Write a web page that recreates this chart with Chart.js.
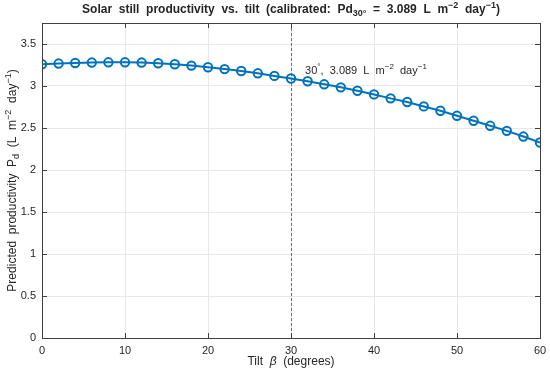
<!DOCTYPE html>
<html>
<head>
<meta charset="utf-8">
<script src="https://cdn.jsdelivr.net/npm/chart.js@4"></script>
<style>
  html, body { margin: 0; padding: 0; background: #fff; }
  #wrap { width: 550px; height: 374px; }
</style>
</head>
<body>
<div id="wrap"><canvas id="tiltChart" width="550" height="374"></canvas></div>
<script>
// tilt angles (degrees) and predicted productivity
const tilt = [0, 2, 4, 6, 8, 10, 12, 14, 16, 18, 20, 22, 24, 26, 28, 30,
              32, 34, 36, 38, 40, 42, 44, 46, 48, 50, 52, 54, 56, 58, 60];
const productivity = [3.259, 3.267, 3.274, 3.279, 3.282, 3.282, 3.279, 3.271, 3.259, 3.243,
                      3.223, 3.201, 3.179, 3.151, 3.120, 3.089, 3.056, 3.020, 2.984, 2.944,
                      2.900, 2.853, 2.809, 2.757, 2.705, 2.645, 2.586, 2.526, 2.466, 2.398, 2.327];
const xTicks = [0, 10, 20, 30, 40, 50, 60];
const yTicks = [0, 0.5, 1, 1.5, 2, 2.5, 3, 3.5];
const markTilt = 30;
const markValue = 3.089;

const FONT = '"Liberation Sans", Arial, Helvetica, sans-serif';
const TEXT = '#262626';
const BLUE = '#0072BD';

// draws a run of text pieces; sup/sub pieces are smaller and shifted
function richText(ctx, parts, x, y, size, bold, align) {
    const w8 = bold ? 'bold ' : '';
    const fontFor = p => (p.it ? 'italic ' : '') + w8 + Math.round(p.s ? size * 0.72 : size) + 'px ' + FONT;
    let total = 0;
    parts.forEach(p => { ctx.font = fontFor(p); total += ctx.measureText(p.t).width; });
    let cx = align === 'center' ? x - total / 2 : x;
    ctx.textBaseline = 'middle';
    ctx.textAlign = 'left';
    parts.forEach(p => {
        ctx.font = fontFor(p);
        let dy = 0;
        if (p.s === 'sup') dy = -size * 0.38;
        if (p.s === 'sub') dy = size * 0.3;
        ctx.fillText(p.t, cx, y + dy);
        cx += ctx.measureText(p.t).width;
    });
}

const decorations = {
    id: 'decorations',
    beforeDatasetsDraw(chart) {
        const { ctx, chartArea: a, scales: { x } } = chart;
        ctx.save();
        // dashed reference line at 30 degrees
        const px = Math.round(x.getPixelForValue(markTilt)) + 0.5;
        ctx.strokeStyle = '#707070';
        ctx.lineWidth = 1;
        ctx.setLineDash([3, 2]);
        ctx.beginPath();
        ctx.moveTo(px, a.top);
        ctx.lineTo(px, a.bottom);
        ctx.stroke();
        ctx.restore();
    },
    afterDraw(chart) {
        const { ctx, chartArea: a, scales: { x, y } } = chart;
        ctx.save();
        // box and inward ticks
        ctx.strokeStyle = '#404040';
        ctx.lineWidth = 1;
        ctx.strokeRect(a.left + 0.5, a.top + 0.5, a.right - a.left, a.bottom - a.top);
        ctx.beginPath();
        xTicks.forEach(v => {
            const p = Math.round(x.getPixelForValue(v)) + 0.5;
            ctx.moveTo(p, a.bottom); ctx.lineTo(p, a.bottom - 5);
            ctx.moveTo(p, a.top); ctx.lineTo(p, a.top + 5);
        });
        yTicks.forEach(v => {
            const p = Math.round(y.getPixelForValue(v)) + 0.5;
            ctx.moveTo(a.left, p); ctx.lineTo(a.left + 5, p);
            ctx.moveTo(a.right, p); ctx.lineTo(a.right - 5, p);
        });
        ctx.stroke();

        ctx.fillStyle = TEXT;
        // title
        richText(ctx, [
            { t: 'Solar  still  productivity  vs.  tilt  (calibrated:  Pd' },
            { t: '30°', s: 'sub' },
            { t: '  =  3.089  L  m' },
            { t: '−2', s: 'sup' },
            { t: '  day' },
            { t: '−1', s: 'sup' },
            { t: ')' }
        ], (a.left + a.right) / 2, 10, 12, true, 'center');

        // annotation next to the marked point
        richText(ctx, [
            { t: '30' }, { t: '°', s: 'sup' },
            { t: ',  ' + markValue.toFixed(3) + '  L  m' }, { t: '−2', s: 'sup' },
            { t: '  day' }, { t: '−1', s: 'sup' }
        ], x.getPixelForValue(31.7), y.getPixelForValue(3.18), 11, false, 'left');

        // x axis title
        richText(ctx, [
            { t: 'Tilt  ' }, { t: 'β', it: true }, { t: '  (degrees)' }
        ], (a.left + a.right) / 2, 362, 12, false, 'center');

        // y axis title, rotated
        ctx.translate(13, (a.top + a.bottom) / 2);
        ctx.rotate(-Math.PI / 2);
        richText(ctx, [
            { t: 'Predicted  productivity  P' }, { t: 'd', s: 'sub' },
            { t: '  (L  m' }, { t: '−2', s: 'sup' },
            { t: '  day' }, { t: '−1', s: 'sup' }, { t: ')' }
        ], 0, 0, 12, false, 'center');
        ctx.restore();
    }
};

new Chart(document.getElementById('tiltChart'), {
    type: 'line',
    data: {
        datasets: [{
            data: tilt.map((t, i) => ({ x: t, y: productivity[i] })),
            borderColor: BLUE,
            borderWidth: 2,
            pointRadius: 4.2,
            pointBorderWidth: 2,
            pointBackgroundColor: 'rgba(0,0,0,0)',
            pointBorderColor: BLUE,
            tension: 0,
        }]
    },
    options: {
        responsive: false,
        animation: false,
        events: [],
        layout: { padding: { left: 0, top: 23, right: 10, bottom: 0 } },
        plugins: {
            legend: { display: false },
            tooltip: { enabled: false },
            title: { display: false }
        },
        scales: {
            x: {
                type: 'linear',
                min: 0,
                max: 60,
                afterBuildTicks: s => { s.ticks = xTicks.map(v => ({ value: v })); },
                afterFit: s => { s.height = 36; s.paddingLeft = 0; s.paddingRight = 0; },
                ticks: { font: { family: FONT, size: 11 }, color: TEXT, padding: 6, maxRotation: 0,
                         callback: v => String(v) },
                grid: { color: '#e8e8e8', drawTicks: false },
                border: { display: false }
            },
            y: {
                min: 0,
                max: 3.75,
                afterBuildTicks: s => { s.ticks = yTicks.map(v => ({ value: v })); },
                afterFit: s => { s.width = 42; s.paddingTop = 0; s.paddingBottom = 0; },
                ticks: { font: { family: FONT, size: 11 }, color: TEXT, padding: 6,
                         callback: v => String(v) },
                grid: { color: '#e8e8e8', drawTicks: false },
                border: { display: false }
            }
        }
    },
    plugins: [decorations]
});
</script>
</body>
</html>
